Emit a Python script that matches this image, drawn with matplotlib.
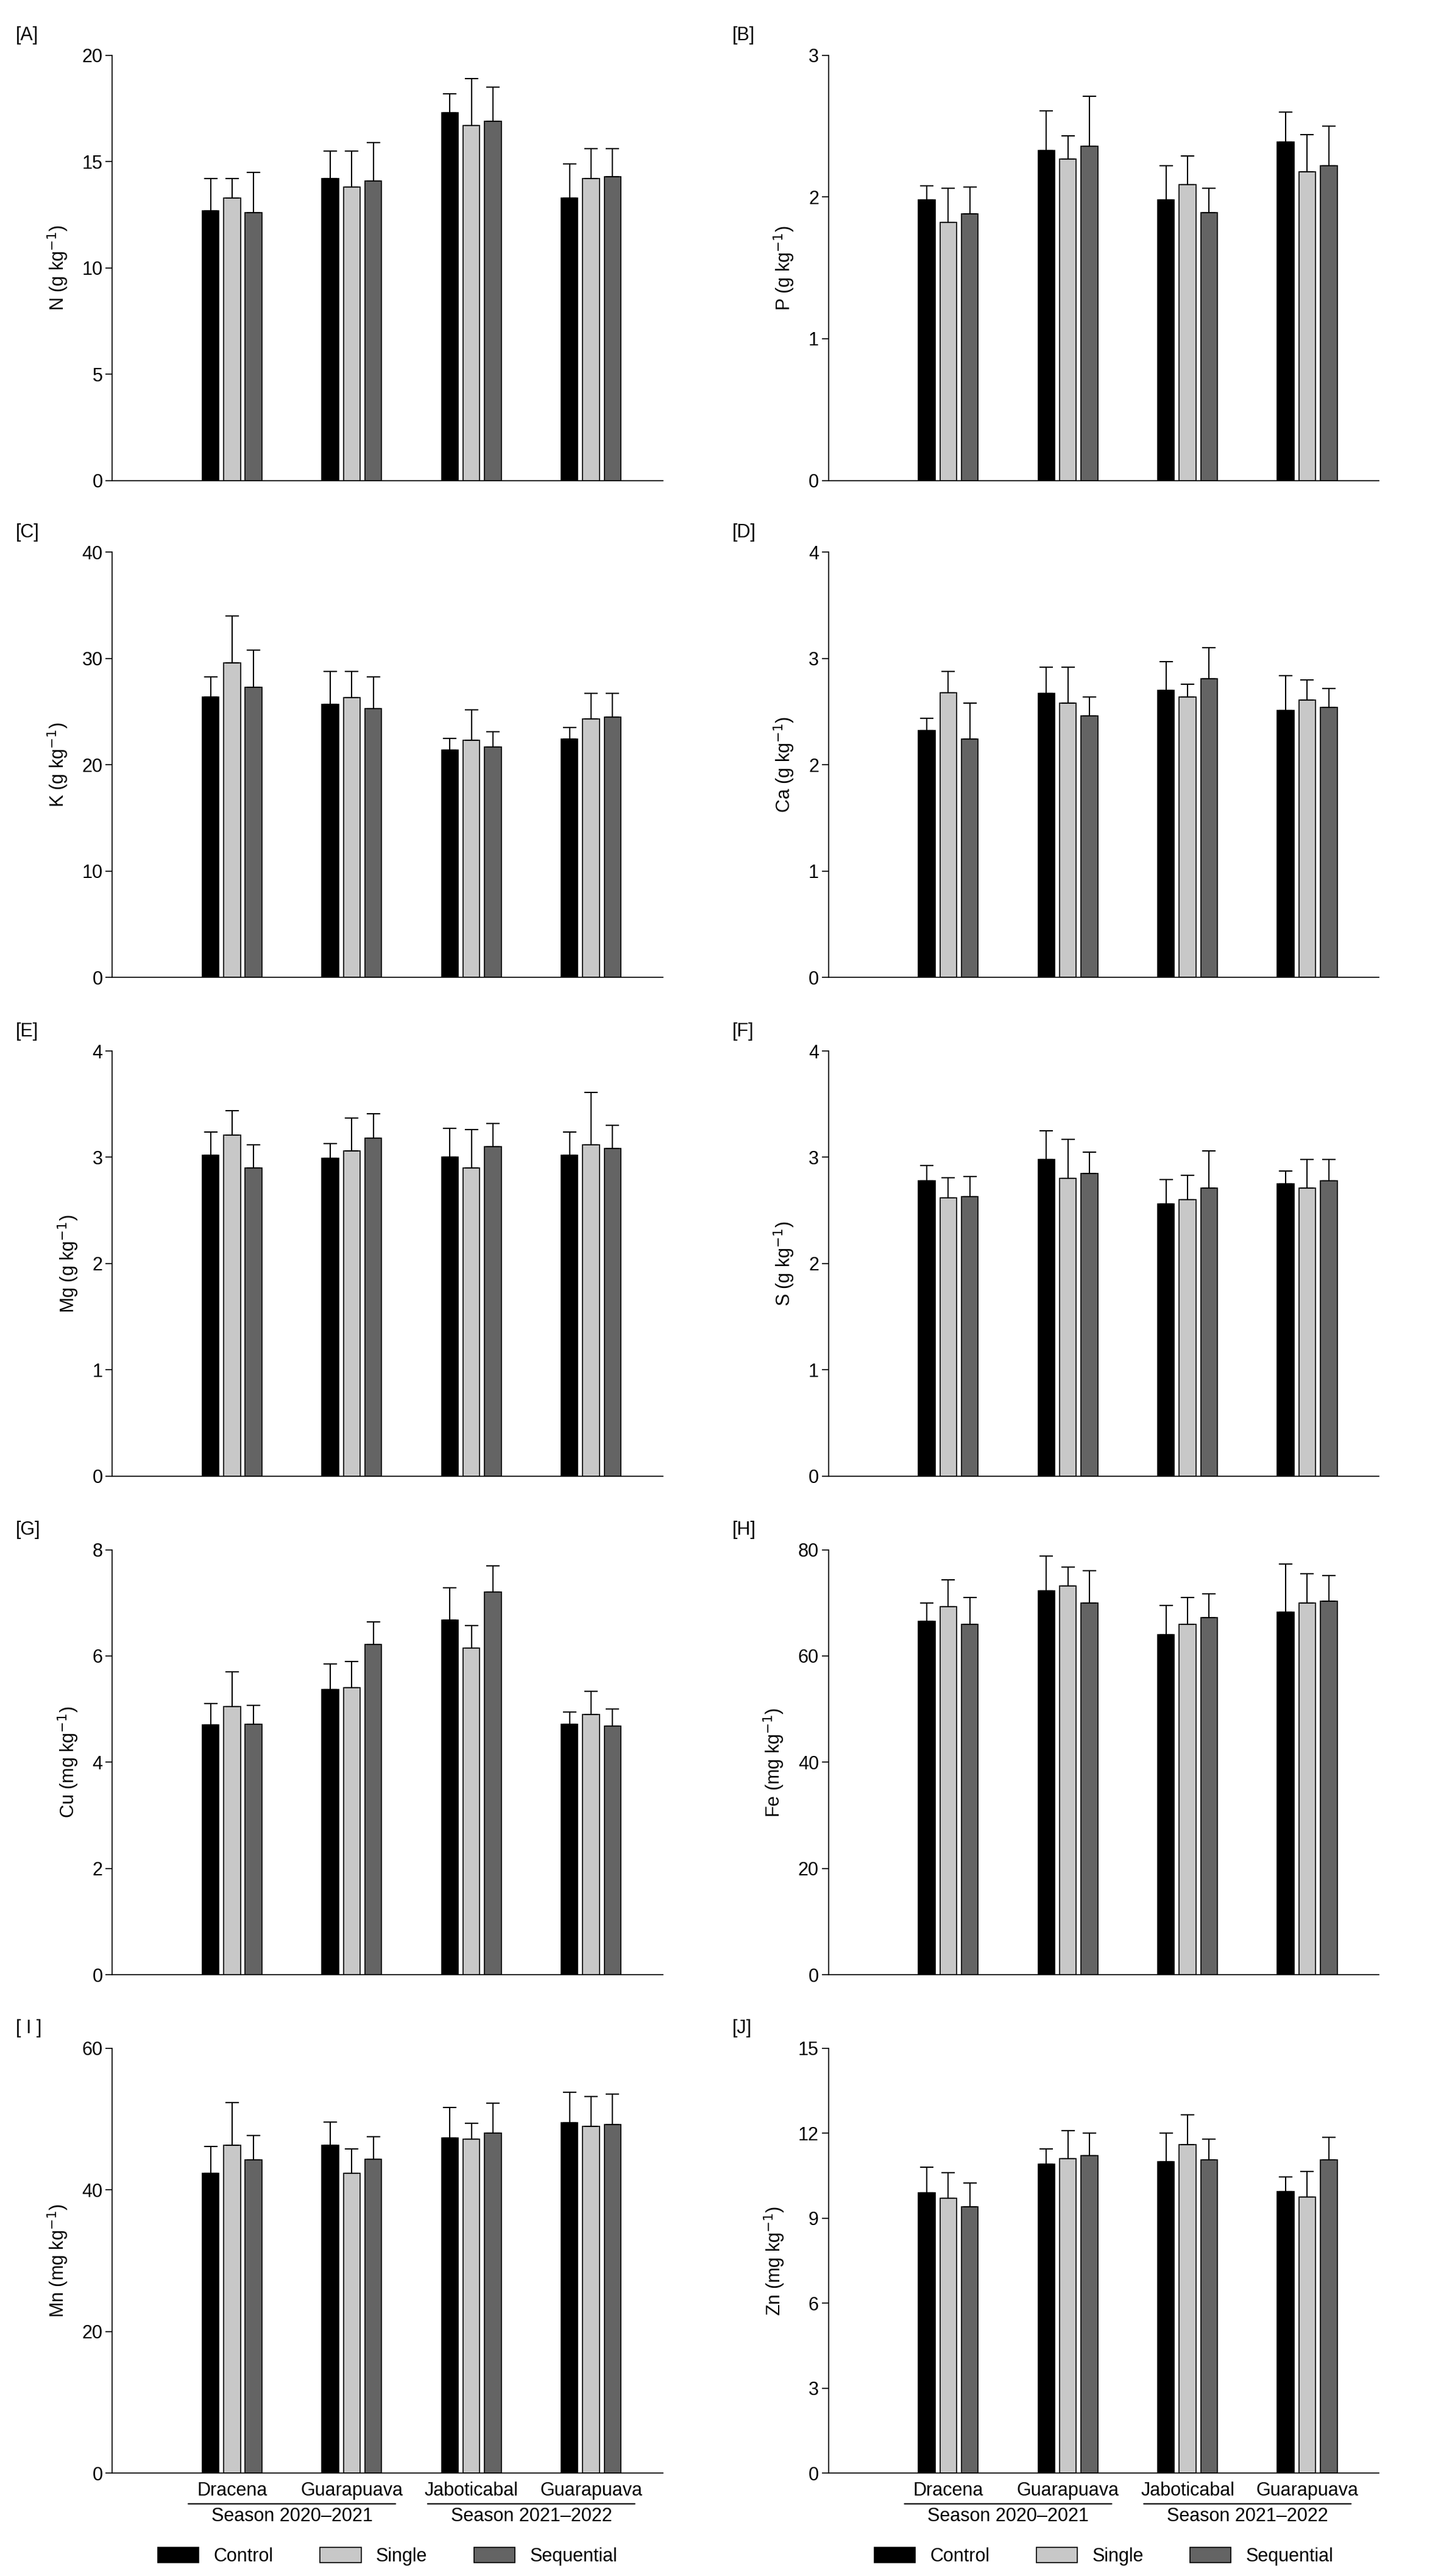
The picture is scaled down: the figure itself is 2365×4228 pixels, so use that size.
import matplotlib
matplotlib.use("Agg")
import matplotlib.pyplot as plt
import numpy as np

sites = ["Dracena", "Guarapuava", "Jaboticabal", "Guarapuava"]
seasons = ["Season 2020\u20132021", "Season 2021\u20132022"]
treatments = ["Control", "Single", "Sequential"]
colors = ["#000000", "#c8c8c8", "#646464"]

N_mean = [[12.7, 14.2, 17.3, 13.3], [13.3, 13.8, 16.7, 14.2], [12.6, 14.1, 16.9, 14.3]]
N_err = [[1.5, 1.3, 0.9, 1.6], [0.9, 1.7, 2.2, 1.4], [1.9, 1.8, 1.6, 1.3]]
P_mean = [[1.98, 2.33, 1.98, 2.39], [1.82, 2.27, 2.09, 2.18], [1.88, 2.36, 1.89, 2.22]]
P_err = [[0.10, 0.28, 0.24, 0.21], [0.24, 0.16, 0.20, 0.26], [0.19, 0.35, 0.17, 0.28]]
K_mean = [[26.4, 25.7, 21.4, 22.4], [29.6, 26.3, 22.3, 24.3], [27.3, 25.3, 21.7, 24.5]]
K_err = [[1.9, 3.1, 1.1, 1.1], [4.4, 2.5, 2.9, 2.4], [3.5, 3.0, 1.4, 2.2]]
Ca_mean = [[2.32, 2.67, 2.70, 2.51], [2.68, 2.58, 2.64, 2.61], [2.24, 2.46, 2.81, 2.54]]
Ca_err = [[0.12, 0.25, 0.27, 0.33], [0.20, 0.34, 0.12, 0.19], [0.34, 0.18, 0.29, 0.18]]
Mg_mean = [[3.02, 2.99, 3.00, 3.02], [3.21, 3.06, 2.90, 3.12], [2.90, 3.18, 3.10, 3.08]]
Mg_err = [[0.22, 0.14, 0.27, 0.22], [0.23, 0.31, 0.36, 0.49], [0.22, 0.23, 0.22, 0.22]]
S_mean = [[2.78, 2.98, 2.56, 2.75], [2.62, 2.80, 2.60, 2.71], [2.63, 2.85, 2.71, 2.78]]
S_err = [[0.14, 0.27, 0.23, 0.12], [0.19, 0.37, 0.23, 0.27], [0.19, 0.20, 0.35, 0.20]]
Cu_mean = [[4.70, 5.37, 6.68, 4.72], [5.05, 5.40, 6.15, 4.90], [4.72, 6.22, 7.20, 4.68]]
Cu_err = [[0.40, 0.48, 0.60, 0.22], [0.65, 0.50, 0.42, 0.43], [0.35, 0.42, 0.50, 0.32]]
Fe_mean = [[66.5, 72.3, 64.0, 68.3], [69.3, 73.2, 66.0, 70.0], [66.0, 70.0, 67.2, 70.3]]
Fe_err = [[3.5, 6.5, 5.5, 9.0], [5.0, 3.5, 5.0, 5.5], [5.0, 6.0, 4.5, 4.8]]
Mn_mean = [[42.3, 46.3, 47.3, 49.5], [46.3, 42.3, 47.2, 49.0], [44.2, 44.3, 48.0, 49.2]]
Mn_err = [[3.8, 3.3, 4.3, 4.3], [6.0, 3.5, 2.2, 4.2], [3.5, 3.2, 4.2, 4.3]]
Zn_mean = [[9.9, 10.9, 11.0, 9.95], [9.7, 11.1, 11.6, 9.75], [9.4, 11.2, 11.05, 11.05]]
Zn_err = [[0.9, 0.55, 1.0, 0.5], [0.9, 1.0, 1.05, 0.9], [0.85, 0.8, 0.75, 0.8]]

panels = [
    ("[A]", "N (g kg$^{-1}$)", N_mean, N_err, 20, 5),
    ("[B]", "P (g kg$^{-1}$)", P_mean, P_err, 3, 1),
    ("[C]", "K (g kg$^{-1}$)", K_mean, K_err, 40, 10),
    ("[D]", "Ca (g kg$^{-1}$)", Ca_mean, Ca_err, 4, 1),
    ("[E]", "Mg (g kg$^{-1}$)", Mg_mean, Mg_err, 4, 1),
    ("[F]", "S (g kg$^{-1}$)", S_mean, S_err, 4, 1),
    ("[G]", "Cu (mg kg$^{-1}$)", Cu_mean, Cu_err, 8, 2),
    ("[H]", "Fe (mg kg$^{-1}$)", Fe_mean, Fe_err, 80, 20),
    ("[ I ]", "Mn (mg kg$^{-1}$)", Mn_mean, Mn_err, 60, 20),
    ("[J]", "Zn (mg kg$^{-1}$)", Zn_mean, Zn_err, 15, 3),
]

plt.rcParams['font.family'] = ['Liberation Sans', 'DejaVu Sans']
fig = plt.figure(figsize=(23.65, 42.28), dpi=100)
lefts = [0.078, 0.575]
bottoms = [0.8135, 0.6206, 0.427, 0.2334, 0.0399]
W, H = 0.382, 0.165
x = np.arange(1, 5)
bw, sp = 0.14, 0.18
fs = 22

for i, (lab, ylab, m, e, ymax, step) in enumerate(panels):
    r, c = divmod(i, 2)
    ax = fig.add_axes([lefts[c], bottoms[r], W, H])
    for t in range(3):
        ax.bar(x + (t - 1) * sp, m[t], bw, color=colors[t], edgecolor='black', linewidth=1.2,
               label=treatments[t])
        ax.errorbar(x + (t - 1) * sp, m[t], yerr=[np.zeros(4), e[t]], fmt='none',
                    ecolor='black', elinewidth=1.5, capsize=8, capthick=1.5)
    ax.set_xlim(0, 4.6)
    ax.set_ylim(0, ymax)
    ax.set_yticks(np.arange(0, ymax + step / 2, step))
    ax.tick_params(axis='y', labelsize=fs, direction='out', length=8, width=1.2)
    ax.spines['top'].set_visible(False)
    ax.spines['right'].set_visible(False)
    for s in ['left', 'bottom']:
        ax.spines[s].set_linewidth(1.2)
    ax.set_ylabel(ylab, fontsize=fs, labelpad=14)
    ax.text(-0.175, 1.025, lab, transform=ax.transAxes, fontsize=fs, ha='left', va='bottom')
    if r == 4:
        ax.set_xticks(x)
        ax.set_xticklabels(sites, fontsize=fs)
        ax.tick_params(axis='x', length=0, pad=10)
        for k, (a, b) in enumerate([(1, 2), (3, 4)]):
            xa = (a - 0.38) / 4.6
            xb = (b + 0.38) / 4.6
            ax.annotate('', xy=(xa, -0.072), xytext=(xb, -0.072), xycoords='axes fraction',
                        arrowprops=dict(arrowstyle='-', lw=1.5, color='black'))
            ax.text((xa + xb) / 2, -0.08, seasons[k], transform=ax.transAxes, ha='center',
                    va='top', fontsize=fs)
        ax.legend(loc='upper center', bbox_to_anchor=(0.5, -0.135), ncol=3, frameon=False,
                  fontsize=fs, handlelength=2.2, handleheight=0.9, columnspacing=2.5)
    else:
        ax.set_xticks([])

fig.savefig("out.png", dpi=100)
